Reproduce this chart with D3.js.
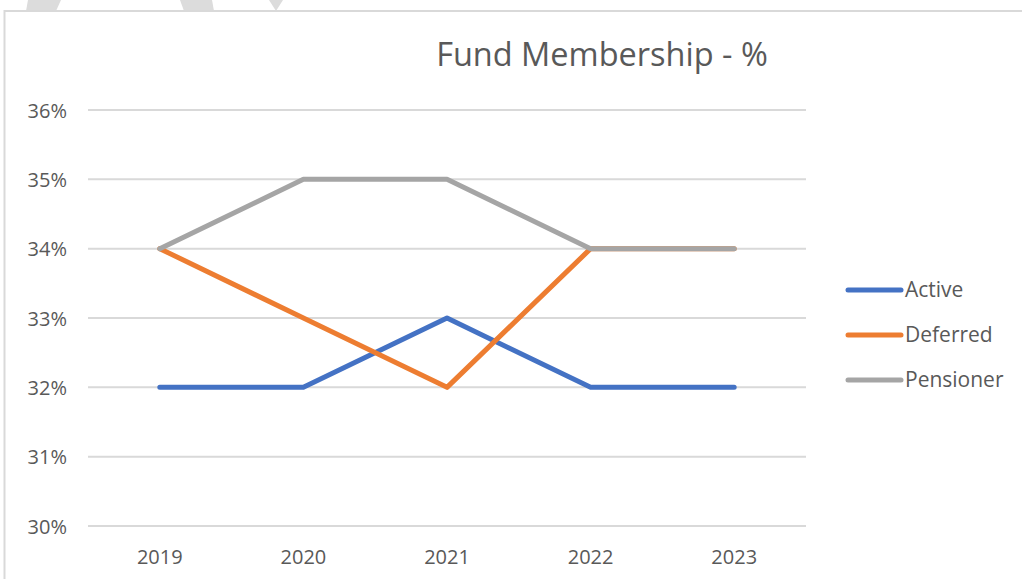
<!DOCTYPE html>
<html>
<head>
<meta charset="utf-8">
<script src="https://cdn.jsdelivr.net/npm/d3@7"></script>
<style>
  body { margin: 0; background: #fff; }
  svg { display: block; }
  svg text { font-family: "Open Sans", "Noto Sans", sans-serif; }
</style>
</head>
<body>
<div id="chart"></div>
<script>
// Données du graphique
const years = ['2019', '2020', '2021', '2022', '2023'];
const active = [32, 32, 33, 32, 32];
const deferred = [34, 33, 32, 34, 34];
const pensioner = [34, 35, 35, 34, 34];
const seriesNames = ['Active', 'Deferred', 'Pensioner'];
const seriesColors = ['#4472C4', '#ED7D31', '#A5A5A5'];
const yTicks = [30, 31, 32, 33, 34, 35, 36];

const width = 1022, height = 579;
const margin = { top: 110, right: 216, bottom: 53, left: 88 };

const svg = d3.select('#chart').append('svg')
    .attr('width', width)
    .attr('height', height);

// Formes grises en haut (coupées)
const shapes = [
    [[28, 0], [61, 0], [56, 11], [26, 11]],
    [[180, 0], [212, 0], [214, 11], [184, 11]],
    [[269, 0], [283, 0], [276, 11]]
];
svg.selectAll('.deco')
    .data(shapes)
    .enter()
    .append('polygon')
    .attr('points', d => d.map(p => p.join(',')).join(' '))
    .attr('fill', '#dcdcdc');

// Cadre du graphique
svg.append('rect')
    .attr('x', 4.5)
    .attr('y', 11)
    .attr('width', width + 20)
    .attr('height', height + 20)
    .attr('fill', '#fff')
    .attr('stroke', '#d9d9d9')
    .attr('stroke-width', 2);

// Échelles
const x = d3.scaleBand()
    .domain(years)
    .range([margin.left, width - margin.right]);

const y = d3.scaleLinear()
    .domain([30, 36])
    .range([height - margin.bottom, margin.top]);

// Grille horizontale
svg.append('g')
    .selectAll('line')
    .data(yTicks)
    .enter()
    .append('line')
    .attr('x1', margin.left)
    .attr('x2', width - margin.right)
    .attr('y1', d => y(d))
    .attr('y2', d => y(d))
    .attr('stroke', '#d9d9d9')
    .attr('stroke-width', 2);

// Axe Y
const yAxis = svg.append('g')
    .attr('transform', `translate(${margin.left - 21},0)`)
    .call(d3.axisLeft(y).tickValues(yTicks).tickSize(0).tickFormat(d => d + '%'));
yAxis.attr('font-family', null);
yAxis.select('.domain').remove();
yAxis.selectAll('text')
    .attr('fill', '#595959')
    .style('font-size', '20px')
    .attr('dy', '0.35em')
    .attr('x', 0);

// Axe X
const xAxis = svg.append('g')
    .attr('transform', `translate(0,${height - margin.bottom})`)
    .call(d3.axisBottom(x).tickSize(0));
xAxis.attr('font-family', null);
xAxis.select('.domain').remove();
xAxis.selectAll('text')
    .attr('fill', '#595959')
    .style('font-size', '20px')
    .attr('y', 31)
    .attr('dy', '0.35em');

// Lignes
const series = [active, deferred, pensioner];
const line = d3.line()
    .x((d, i) => x(years[i]) + x.bandwidth() / 2)
    .y(d => y(d));

series.forEach((values, i) => {
    svg.append('path')
        .datum(values)
        .attr('d', line)
        .attr('fill', 'none')
        .attr('stroke', seriesColors[i])
        .attr('stroke-width', 5)
        .attr('stroke-linecap', 'round')
        .attr('stroke-linejoin', 'round');
});

// Titre
svg.append('text')
    .attr('x', 602)
    .attr('y', 57)
    .attr('text-anchor', 'middle')
    .attr('dominant-baseline', 'middle')
    .attr('fill', '#595959')
    .style('font-size', '32.5px')
    .text('Fund Membership - %');

// Légende
const legend = svg.append('g')
    .attr('transform', 'translate(848,290)');

seriesNames.forEach((name, i) => {
    const row = legend.append('g')
        .attr('transform', `translate(0,${i * 45})`);
    row.append('line')
        .attr('x1', 0)
        .attr('x2', 53)
        .attr('stroke', seriesColors[i])
        .attr('stroke-width', 5)
        .attr('stroke-linecap', 'round');
    row.append('text')
        .attr('x', 57)
        .attr('dy', '0.35em')
        .attr('fill', '#595959')
        .style('font-size', '21px')
        .text(name);
});
</script>
</body>
</html>
